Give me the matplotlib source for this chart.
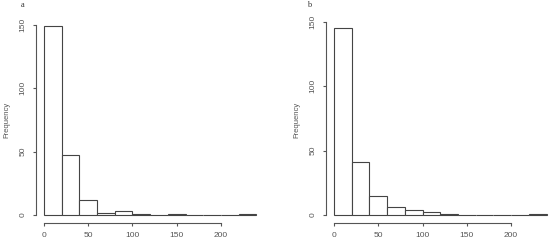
import matplotlib
matplotlib.use("Agg")
import matplotlib.pyplot as plt
import numpy as np

plt.rcParams["font.family"] = ["Liberation Sans", "DejaVu Sans"]

bin_edges = [0, 20, 40, 60, 80, 100, 120, 140, 160, 180, 200, 220, 240]
counts_a = [149, 47, 12, 2, 3, 1, 0, 1, 0, 0, 0, 1]
counts_b = [145, 41, 15, 6, 4, 2, 1, 0, 0, 0, 0, 1]
panel_labels = ["a", "b"]
x_ticks = [0, 50, 100, 150, 200]
y_ticks = [0, 50, 100, 150]

W, H = 550, 244
fig = plt.figure(figsize=(W / 100, H / 100), dpi=100)
gray = "#555555"

def px_axes(left, right, top, bottom):
    return fig.add_axes([left / W, 1 - bottom / H, (right - left) / W, (bottom - top) / H])

layouts = [(35.5, 264.9, 18.7, 222.6), (325.5, 555.0, 20.6, 222.5)]
label_pos = [(23, 5), (309, 5)]
freq_x = [7, 297]

for counts, lay, lab, lp, fx in zip([counts_a, counts_b], layouts, panel_labels, label_pos, freq_x):
    ax = px_axes(*lay)
    lefts = np.array(bin_edges[:-1])
    widths = np.diff(bin_edges)
    ax.bar(lefts, counts, width=widths, align="edge", facecolor="white",
           edgecolor="#444444", linewidth=0.8)
    lo, hi = bin_edges[0], bin_edges[-1]
    ext = 0.04 * (hi - lo)
    ax.set_xlim(lo - ext, hi + ext)
    cmax = max(counts)
    ax.set_ylim(-0.04 * cmax, cmax * 1.04)
    for s in ["top", "right"]:
        ax.spines[s].set_visible(False)
    for s in ["left", "bottom"]:
        ax.spines[s].set_color(gray)
        ax.spines[s].set_linewidth(0.8)
    ax.spines["left"].set_bounds(y_ticks[0], y_ticks[-1])
    ax.spines["bottom"].set_bounds(x_ticks[0], x_ticks[-1])
    ax.set_xticks(x_ticks)
    ax.set_yticks(y_ticks)
    ax.tick_params(axis="both", direction="out", length=2.2, width=0.8, color=gray,
                   labelsize=6, labelcolor=gray, pad=4.5)
    for t in ax.get_yticklabels():
        t.set_rotation(90)
        t.set_va("center")
    ax.patch.set_visible(False)
    fig.text(lp[0] / W, 1 - lp[1] / H, lab, fontsize=6, color="#333333",
             ha="center", va="center", family="Liberation Serif")
    fig.text(fx / W, 1 - 120 / H, "Frequency", rotation=90, fontsize=5.5,
             color=gray, ha="center", va="center")

fig.savefig("out.png", dpi=100)
